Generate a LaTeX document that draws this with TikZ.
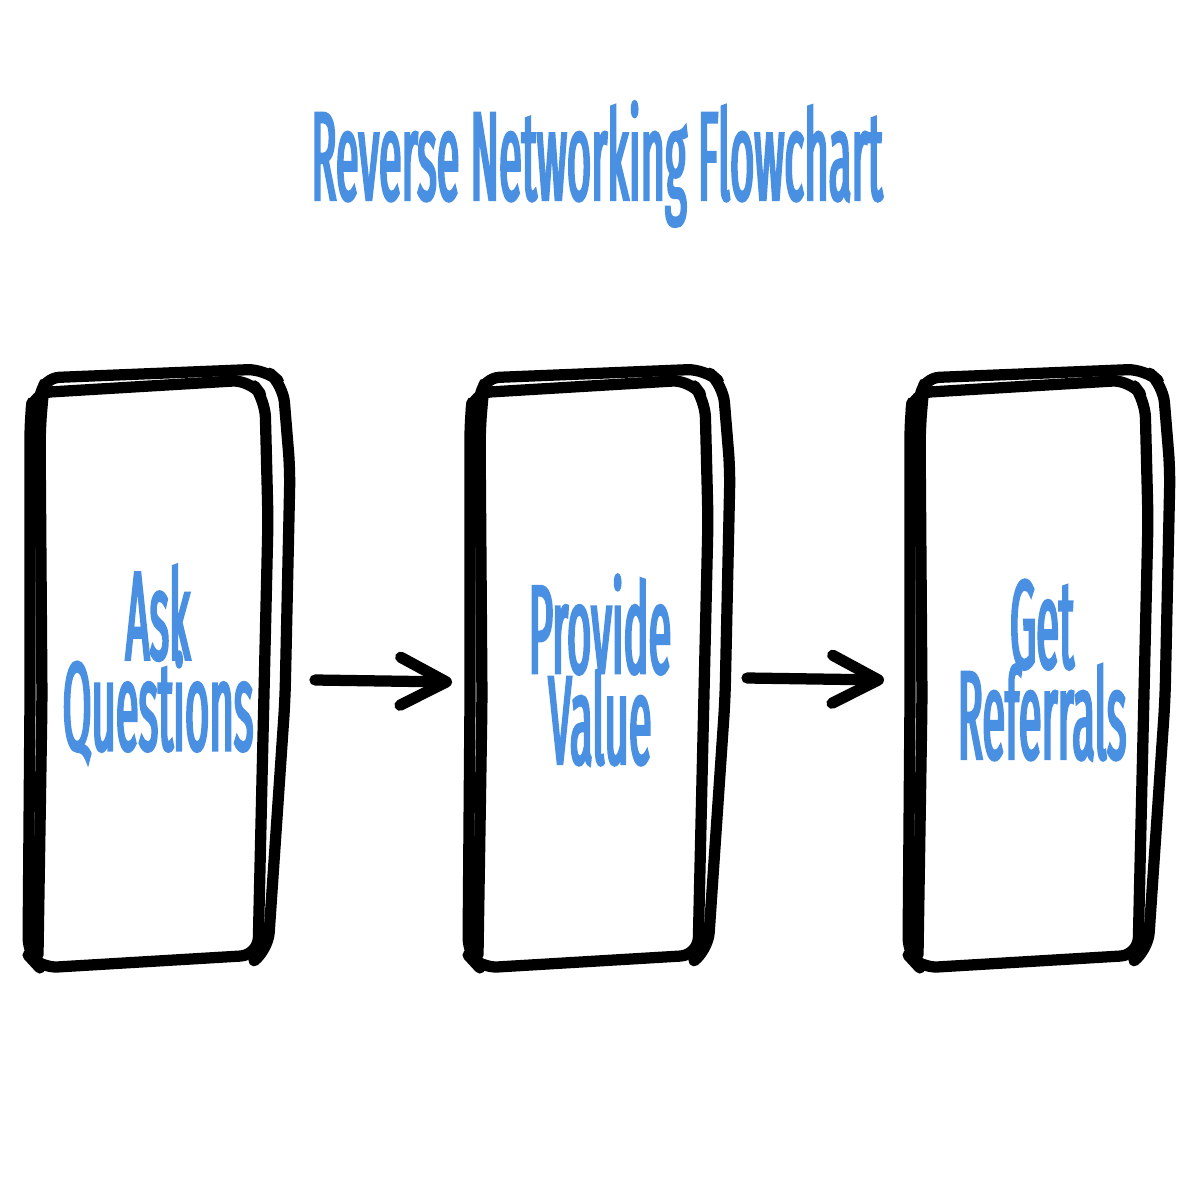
\documentclass[tikz,border=0pt]{standalone}
\usepackage{fontspec}
\newfontfamily\condfont[FakeStretch=0.33,FakeBold=1.9]{Fira Sans}
\usetikzlibrary{arrows.meta}
\definecolor{titleblue}{HTML}{4A90E2}
\newcommand\cardfont{\condfont\fontsize{36}{25.8}\selectfont\setlength{\lineskiplimit}{-100pt}\setlength{\lineskip}{0pt}}
\tikzset{
  sketch/.style={line width=3.2pt, line cap=round, line join=round, rounded corners=5pt},
  cardtext/.style={font=\cardfont, text=titleblue, align=center, inner sep=0pt},
  flow/.style={line width=3.2pt, line cap=round, -{Straight Barb[round,length=4.6mm,width=4.8mm]}}
}
\newcommand\sketchcard{%
  \draw[sketch] (30,420) -- (33,393) -- (250,380) -- (265,400) -- (268,520) -- (262,780) -- (258,955) -- (40,968) -- (28,955) -- (30,700) -- cycle;
  \draw[sketch] (40,400) -- (42,378) -- (265,369) -- (283,385) -- (290,470) -- (285,700) -- (268,950) -- (255,960);
  \draw[sketch] (44,384) -- (40,430) -- (42,700) -- (38,955);
}
\begin{document}
\begin{tikzpicture}[x=0.01cm,y=-0.01cm]
\useasboundingbox[fill=white] (0,0) rectangle (1200,1200);
\node[cardtext, anchor=base] (title) at (597,200) {Reverse Networking Flowchart};
\begin{scope}\sketchcard\end{scope}
\begin{scope}[xshift=440*0.01cm]\sketchcard\end{scope}
\begin{scope}[xshift=880*0.01cm]\sketchcard\end{scope}
\node[cardtext] (ask) at (158,664) {Ask\\Questions};
\node[cardtext] (provide) at (600,670) {Provide\\Value};
\node[cardtext] (get) at (1042,670) {Get\\Referrals};
\coordinate (a1s) at (315,680);
\coordinate (a1e) at (452,682);
\coordinate (a2s) at (747,678);
\coordinate (a2e) at (884,680);
\draw[flow] (a1s) -- (a1e);
\draw[flow] (a2s) -- (a2e);
\end{tikzpicture}
\end{document}
